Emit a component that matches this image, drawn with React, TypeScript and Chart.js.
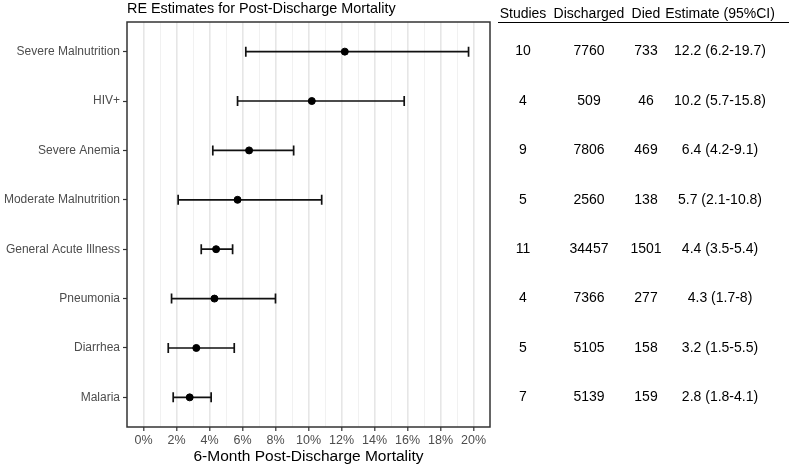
import React, { useEffect, useRef } from "react";
import { Chart, registerables } from "chart.js";

Chart.register(...registerables);

const categories = [
  "Severe Malnutrition",
  "HIV+",
  "Severe Anemia",
  "Moderate Malnutrition",
  "General Acute Illness",
  "Pneumonia",
  "Diarrhea",
  "Malaria",
];
const estimates = [12.2, 10.2, 6.4, 5.7, 4.4, 4.3, 3.2, 2.8];
const lower = [6.2, 5.7, 4.2, 2.1, 3.5, 1.7, 1.5, 1.8];
const upper = [19.7, 15.8, 9.1, 10.8, 5.4, 8.0, 5.5, 4.1];
const studies = ["10", "4", "9", "5", "11", "4", "5", "7"];
const discharged = ["7760", "509", "7806", "2560", "34457", "7366", "5105", "5139"];
const died = ["733", "46", "469", "138", "1501", "277", "158", "159"];
const estimateLabels = [
  "12.2 (6.2-19.7)",
  "10.2 (5.7-15.8)",
  "6.4 (4.2-9.1)",
  "5.7 (2.1-10.8)",
  "4.4 (3.5-5.4)",
  "4.3 (1.7-8)",
  "3.2 (1.5-5.5)",
  "2.8 (1.8-4.1)",
];
const tableHeaders = ["Studies", "Discharged", "Died", "Estimate (95%CI)"];
const xTickValues = [0, 2, 4, 6, 8, 10, 12, 14, 16, 18, 20];
const chartTitle = "RE Estimates for Post-Discharge Mortality";
const xAxisTitle = "6-Month Post-Discharge Mortality";

const FONT = "'Liberation Sans', Arial, sans-serif";
const N = categories.length;
const rowY = (i: number) => N - i;

export default function App() {
  const ref = useRef<HTMLCanvasElement | null>(null);

  useEffect(() => {
    document.body.style.margin = "0";
    const canvas = ref.current;
    if (!canvas) return;

    const forestPlugin = {
      id: "forest",
      beforeDatasetsDraw(chart: any) {
        const { ctx, scales } = chart;
        const xs = scales.x;
        const ys = scales.y;
        ctx.save();
        ctx.strokeStyle = "#111";
        ctx.lineWidth = 1.7;
        for (let i = 0; i < N; i++) {
          const y = ys.getPixelForValue(rowY(i));
          const x1 = xs.getPixelForValue(lower[i]);
          const x2 = xs.getPixelForValue(upper[i]);
          ctx.beginPath();
          ctx.moveTo(x1, y);
          ctx.lineTo(x2, y);
          ctx.moveTo(x1, y - 5);
          ctx.lineTo(x1, y + 5);
          ctx.moveTo(x2, y - 5);
          ctx.lineTo(x2, y + 5);
          ctx.stroke();
        }
        ctx.restore();
      },
      afterDatasetsDraw(chart: any) {
        const { ctx, chartArea, scales } = chart;
        const ys = scales.y;
        ctx.save();
        // panel border
        ctx.strokeStyle = "#333";
        ctx.lineWidth = 1.5;
        ctx.strokeRect(
          chartArea.left,
          chartArea.top,
          chartArea.right - chartArea.left,
          chartArea.bottom - chartArea.top
        );
        // title
        ctx.fillStyle = "#000";
        ctx.textBaseline = "middle";
        ctx.textAlign = "left";
        ctx.font = `14.4px ${FONT}`;
        ctx.fillText(chartTitle, chartArea.left, 9);
        // x axis title
        ctx.textAlign = "center";
        ctx.font = `15.5px ${FONT}`;
        ctx.fillText(xAxisTitle, (chartArea.left + chartArea.right) / 2, 457);
        // table
        const colX = [523, 589, 646, 720];
        ctx.font = `14px ${FONT}`;
        tableHeaders.forEach((h, j) => ctx.fillText(h, colX[j], 14));
        ctx.strokeStyle = "#000";
        ctx.lineWidth = 1;
        ctx.beginPath();
        ctx.moveTo(498, 22.5);
        ctx.lineTo(789, 22.5);
        ctx.stroke();
        for (let i = 0; i < N; i++) {
          const y = ys.getPixelForValue(rowY(i));
          ctx.fillText(studies[i], colX[0], y);
          ctx.fillText(discharged[i], colX[1], y);
          ctx.fillText(died[i], colX[2], y);
          ctx.fillText(estimateLabels[i], colX[3], y);
        }
        ctx.restore();
      },
    };

    const isMajor = (ctx: any) => ctx.tick && xTickValues.includes(ctx.tick.value);

    const chart = new Chart(canvas, {
      type: "scatter",
      data: {
        datasets: [
          {
            data: estimates.map((v, i) => ({ x: v, y: rowY(i) })),
            backgroundColor: "#000",
            borderColor: "#000",
            pointRadius: 3.5,
            pointHoverRadius: 3.5,
          },
        ],
      },
      options: {
        responsive: true,
        maintainAspectRatio: false,
        animation: false,
        events: [],
        layout: { padding: { left: 0, right: 299, top: 22, bottom: 0 } },
        plugins: {
          legend: { display: false },
          tooltip: { enabled: false },
          title: { display: false },
        },
        scales: {
          x: {
            type: "linear",
            min: -1,
            max: 21,
            afterBuildTicks: (scale: any) => {
              const t: any[] = [];
              for (let v = 0; v <= 20; v++) t.push({ value: v });
              scale.ticks = t;
            },
            afterFit: (scale: any) => {
              scale.height = 40;
            },
            border: { display: false },
            grid: {
              color: (ctx: any) => (isMajor(ctx) ? "#e6e6e6" : "#f1f1f1"),
              lineWidth: (ctx: any) => (isMajor(ctx) ? 1.6 : 1),
              drawTicks: true,
              tickLength: 4,
              tickColor: (ctx: any) => (isMajor(ctx) ? "#333" : "rgba(0,0,0,0)"),
              tickWidth: 1.2,
            },
            ticks: {
              autoSkip: false,
              maxRotation: 0,
              padding: 2,
              color: "#4d4d4d",
              font: { family: FONT, size: 12.5 },
              callback: (v: any) => (xTickValues.includes(Number(v)) ? `${v}%` : ""),
            },
          },
          y: {
            type: "linear",
            min: 0.4,
            max: N + 0.6,
            afterBuildTicks: (scale: any) => {
              scale.ticks = categories.map((_, i) => ({ value: rowY(i) }));
            },
            afterFit: (scale: any) => {
              scale.width = 127;
            },
            border: { display: false },
            grid: {
              drawOnChartArea: false,
              drawTicks: true,
              tickLength: 4,
              tickColor: "#333",
              tickWidth: 1.2,
            },
            ticks: {
              autoSkip: false,
              padding: 3,
              color: "#4d4d4d",
              font: { family: FONT, size: 12 },
              callback: (v: any) => categories[N - Number(v)] ?? "",
            },
          },
        },
      },
      plugins: [forestPlugin],
    });

    return () => chart.destroy();
  }, []);

  return (
    <div style={{ width: 789, height: 467, position: "relative", background: "#fff" }}>
      <canvas ref={ref} />
    </div>
  );
}
